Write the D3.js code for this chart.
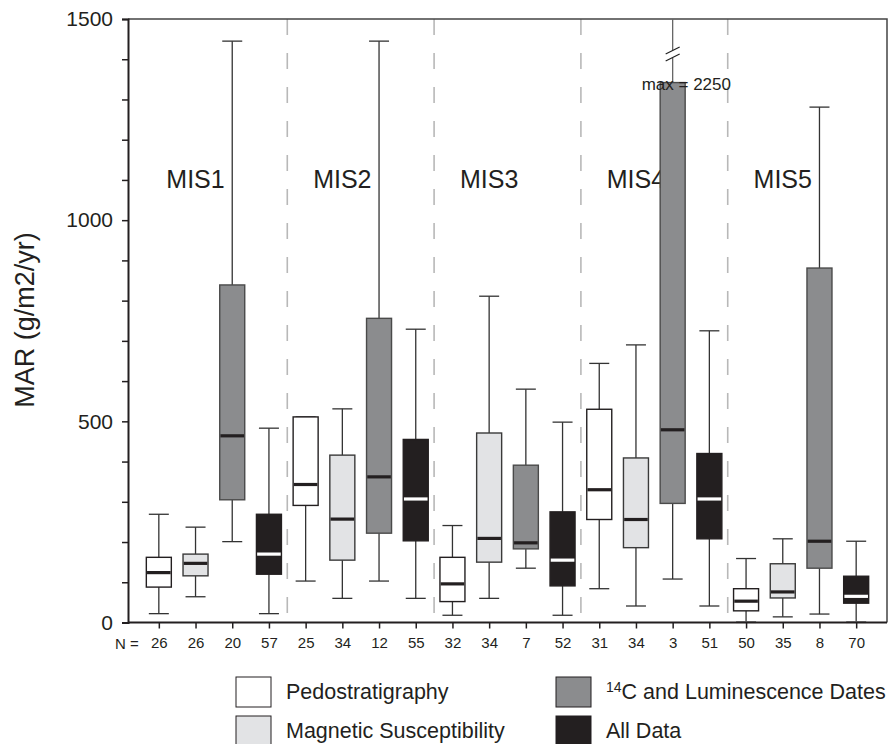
<!DOCTYPE html>
<html>
<head>
<meta charset="utf-8">
<script src="https://cdn.jsdelivr.net/npm/d3@7"></script>
<style>
  body { margin: 0; background: #fff; }
  text { font-family: "Liberation Sans", Arial, sans-serif; fill: #231f20; }
</style>
</head>
<body>
<script>
//==============================================================================
// DATA
//==============================================================================

const periods = ['MIS1', 'MIS2', 'MIS3', 'MIS4', 'MIS5'];
const methods = ['Pedostratigraphy', 'Magnetic Susceptibility', '14C and Luminescence Dates', 'All Data'];

// one entry per box: MIS1 (4 methods), MIS2 (4 methods), ...
const nCounts     = [26, 26, 20, 57,   25, 34, 12, 55,   32, 34, 7, 52,    31, 34, 3, 51,     50, 35, 8, 70];
const whiskerLow  = [22, 64, 201, 22,  103, 60, 103, 60, 18, 60, 135, 18,  84, 41, 108, 41,   1, 14, 21, 1];
const quartile1   = [88, 116, 305, 120, 291, 155, 222, 203, 52, 150, 183, 91, 256, 186, 296, 208, 29, 61, 135, 48];
const medians     = [124, 147, 464, 170, 343, 257, 362, 307, 96, 209, 198, 155, 330, 256, 479, 307, 53, 76, 202, 65];
const quartile3   = [162, 170, 839, 269, 511, 416, 756, 455, 162, 471, 391, 275, 530, 409, 1342, 420, 84, 146, 881, 115];
const whiskerHigh = [269, 237, 1445, 483, 511, 531, 1445, 729, 241, 811, 580, 498, 644, 690, 2250, 725, 159, 208, 1281, 202];

const yTicks = [0, 500, 1000, 1500];

//==============================================================================
// PARAMETERS
//==============================================================================

const width = 891;
const height = 744;
const plot = { left: 128, right: 887, top: 19, bottom: 622.5 };
const yMax = 1500;

const fills   = ['#ffffff', '#e2e3e5', '#8b8c8e', '#231f20'];
const strokes = ['#231f20', '#3a3a3a', '#4a4a4a', '#231f20'];
const medCols = ['#231f20', '#231f20', '#231f20', '#ffffff'];

const x = d3.scalePoint()
  .domain(d3.range(nCounts.length))
  .range([plot.left, plot.right])
  .padding(0.84);

const y = d3.scaleLinear()
  .domain([0, yMax])
  .range([plot.bottom, plot.top]);

const boxW = 25;
const capW = 20;

const svg = d3.select('body').append('svg')
  .attr('width', width)
  .attr('height', height);

//==============================================================================
// DRAW
//==============================================================================

// period dividers
d3.range(1, periods.length).forEach(p => {
  const xd = x(p * 4 - 1) + x.step() / 2;
  svg.append('line')
    .attr('x1', xd).attr('x2', xd)
    .attr('y1', plot.top).attr('y2', plot.bottom)
    .attr('stroke', '#b8b8b8')
    .attr('stroke-width', 1.6)
    .attr('stroke-dasharray', '16,18');
});

// frame top and right
svg.append('path')
  .attr('d', `M${plot.left},${plot.top}H${plot.right}V${plot.bottom}`)
  .attr('fill', 'none')
  .attr('stroke', '#444')
  .attr('stroke-width', 1.5);

// period labels, centred on the 2nd box of each group
svg.selectAll('.period')
  .data(periods)
  .enter()
  .append('text')
  .attr('class', 'period')
  .attr('x', (d, i) => x(i * 4 + 1))
  .attr('y', 188)
  .attr('text-anchor', 'middle')
  .attr('font-size', 25)
  .text(d => d);

// boxes
const boxes = svg.selectAll('.box')
  .data(nCounts.map((n, i) => ({
    i, n, m: i % 4,
    lo: whiskerLow[i], q1: quartile1[i], med: medians[i], q3: quartile3[i], hi: whiskerHigh[i]
  })))
  .enter()
  .append('g')
  .attr('class', 'box')
  .attr('transform', d => `translate(${x(d.i)},0)`);

// whiskers
boxes.append('line')
  .attr('y1', d => y(d.lo)).attr('y2', d => y(d.q1))
  .attr('stroke', '#333').attr('stroke-width', 1.3);
boxes.append('line')
  .attr('y1', d => y(d.q3)).attr('y2', d => y(Math.min(d.hi, yMax)))
  .attr('stroke', d => d.hi > yMax ? '#666' : '#333').attr('stroke-width', 1.3);

// caps
boxes.append('line')
  .attr('x1', -capW / 2).attr('x2', capW / 2)
  .attr('y1', d => y(d.lo)).attr('y2', d => y(d.lo))
  .attr('stroke', d => d.lo < 5 ? '#888' : '#333').attr('stroke-width', d => d.lo < 5 ? 2 : 1.3);
boxes.filter(d => d.hi <= yMax).append('line')
  .attr('x1', -capW / 2).attr('x2', capW / 2)
  .attr('y1', d => y(d.hi)).attr('y2', d => y(d.hi))
  .attr('stroke', '#333').attr('stroke-width', 1.3);

// box body
boxes.append('rect')
  .attr('x', -boxW / 2)
  .attr('width', boxW)
  .attr('y', d => y(d.q3))
  .attr('height', d => y(d.q1) - y(d.q3))
  .attr('fill', d => fills[d.m])
  .attr('stroke', d => strokes[d.m])
  .attr('stroke-width', 1.4);

// medians
boxes.append('line')
  .attr('x1', -boxW / 2 + 0.7).attr('x2', boxW / 2 - 0.7)
  .attr('y1', d => y(d.med)).attr('y2', d => y(d.med))
  .attr('stroke', d => medCols[d.m])
  .attr('stroke-width', 3.2);

// axis break for whiskers going off the top
const broken = boxes.filter(d => d.hi > yMax);
broken.append('rect')
  .attr('x', -3).attr('width', 6)
  .attr('y', 50).attr('height', 8)
  .attr('fill', '#fff');
[50, 57].forEach(yb => {
  broken.append('line')
    .attr('x1', -7).attr('x2', 7)
    .attr('y1', yb + 4).attr('y2', yb - 3)
    .attr('stroke', '#222').attr('stroke-width', 1.2);
});
broken.append('text')
  .attr('x', -31)
  .attr('y', d => y(d.q3) + 7)
  .attr('font-size', 17)
  .text(d => `max = ${d.hi}`);

// y axis
const yAxis = svg.append('g')
  .attr('transform', `translate(${plot.left},0)`)
  .call(d3.axisLeft(y)
    .tickValues(d3.range(0, yMax + 1, 100))
    .tickSize(6)
    .tickPadding(9)
    .tickFormat(d => yTicks.includes(d) ? d : ''));
yAxis.select('.domain').attr('stroke', '#231f20').attr('stroke-width', 2);
yAxis.selectAll('.tick line').attr('stroke', '#231f20').attr('stroke-width', 1.5);
yAxis.selectAll('.tick text')
  .attr('font-family', '"Liberation Sans", Arial, sans-serif')
  .attr('font-size', 21)
  .attr('fill', '#231f20');

// x axis with N counts
const xAxis = svg.append('g')
  .attr('transform', `translate(0,${plot.bottom})`)
  .call(d3.axisBottom(x)
    .tickSize(6)
    .tickPadding(9)
    .tickFormat(i => nCounts[i]));
xAxis.select('.domain')
  .attr('d', `M${plot.left},0H${plot.right}`)
  .attr('stroke', '#231f20').attr('stroke-width', 2);
xAxis.selectAll('.tick line').attr('stroke', '#231f20').attr('stroke-width', 1.5);
xAxis.selectAll('.tick text')
  .attr('font-family', '"Liberation Sans", Arial, sans-serif')
  .attr('font-size', 15)
  .attr('fill', '#231f20');

svg.append('text')
  .attr('x', 115)
  .attr('y', 649)
  .attr('font-size', 15)
  .text('N =');

// y axis label
svg.append('text')
  .attr('transform', 'translate(34,320) rotate(-90)')
  .attr('text-anchor', 'middle')
  .attr('font-size', 27)
  .text('MAR (g/m2/yr)');

// legend
const legendX = [236, 556];
const legendY = [677, 716];
const legend = svg.selectAll('.legend')
  .data(methods)
  .enter()
  .append('g')
  .attr('class', 'legend')
  .attr('transform', (d, i) => `translate(${legendX[Math.floor(i / 2)]},${legendY[i % 2]})`);

legend.append('rect')
  .attr('width', 35)
  .attr('height', 30)
  .attr('fill', (d, i) => fills[i])
  .attr('stroke', '#231f20')
  .attr('stroke-width', 1);

legend.append('text')
  .attr('x', 50)
  .attr('y', 22)
  .attr('font-size', 21.5)
  .each(function (d) {
    const t = d3.select(this);
    if (d.startsWith('14C')) {
      t.append('tspan').attr('font-size', 14).attr('dy', -7).text('14');
      t.append('tspan').attr('dy', 7).text(d.slice(2));
    } else {
      t.text(d);
    }
  });
</script>
</body>
</html>
